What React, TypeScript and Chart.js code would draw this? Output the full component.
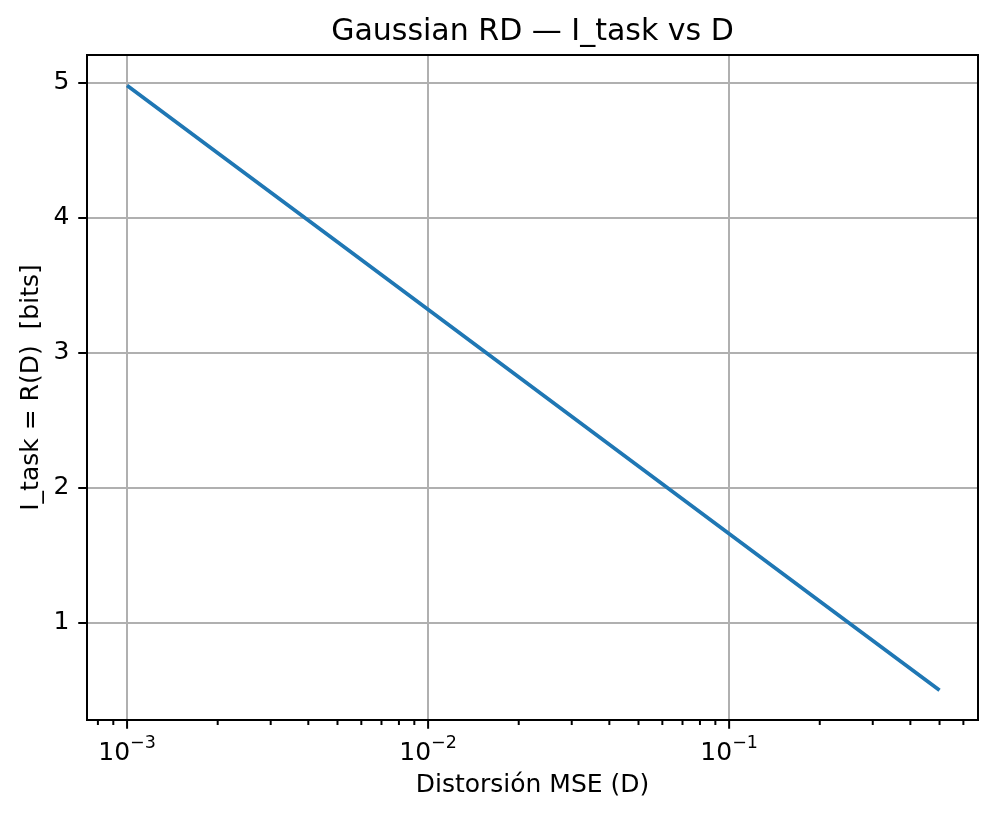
import { useEffect, useRef } from "react";
import { Chart, registerables } from "chart.js";

Chart.register(...registerables);

// distortion values (MSE) and the rate
const distortion = [0.001, 0.002, 0.005, 0.01, 0.02, 0.05, 0.1, 0.2, 0.5];
const rateBits = [4.98, 4.48, 3.82, 3.32, 2.82, 2.16, 1.66, 1.16, 0.5];
const yTicks = [1, 2, 3, 4, 5];

const FONT = "DejaVu Sans";
const GRID = "#b0b0b0";

const isDecade = (v: number) => Math.abs(Math.log10(v) - Math.round(Math.log10(v))) < 1e-9;

const SUP: Record<string, string> = { "-": "\u2212" };

const axesPlugin = {
    id: "mplAxes",
    afterDraw(chart: any) {
        const { ctx, chartArea } = chart;
        const x = chart.scales.x;
        ctx.save();
        // x tick marks + labels (10^n style)
        ctx.strokeStyle = "#000";
        ctx.lineWidth = 2;
        for (const t of x.ticks) {
            const px = x.getPixelForValue(t.value);
            if (px < chartArea.left - 0.5 || px > chartArea.right + 0.5) continue;
            const len = isDecade(t.value) ? 8.75 : 5;
            ctx.beginPath();
            ctx.moveTo(px, chartArea.bottom);
            ctx.lineTo(px, chartArea.bottom + len);
            ctx.stroke();
            if (isDecade(t.value)) {
                const exp = String(Math.round(Math.log10(t.value)))
                    .split("")
                    .map((c) => SUP[c] ?? c)
                    .join("");
                ctx.font = `25px ${FONT}`;
                const wBase = ctx.measureText("10").width;
                ctx.font = `17.5px ${FONT}`;
                const wExp = ctx.measureText(exp).width;
                const start = px - (wBase + wExp) / 2;
                ctx.fillStyle = "#000";
                ctx.textBaseline = "alphabetic";
                ctx.textAlign = "left";
                ctx.font = `25px ${FONT}`;
                ctx.fillText("10", start, chartArea.bottom + 40);
                ctx.font = `17.5px ${FONT}`;
                ctx.fillText(exp, start + wBase, chartArea.bottom + 28);
            }
        }
        // spines
        ctx.lineWidth = 2;
        ctx.strokeRect(chartArea.left, chartArea.top, chartArea.right - chartArea.left, chartArea.bottom - chartArea.top);
        ctx.restore();
    },
};

export default function App() {
    const canvasRef = useRef<HTMLCanvasElement | null>(null);

    useEffect(() => {
        document.body.style.margin = "0";
        if (!canvasRef.current) {
            return;
        }

        const chart = new Chart(canvasRef.current, {
            type: "line",
            data: {
                datasets: [
                    {
                        label: "R(D)",
                        data: distortion.map((d, i) => ({ x: d, y: rateBits[i] })),
                        borderColor: "#1f77b4",
                        borderWidth: 3.75,
                        pointRadius: 0,
                        tension: 0,
                        fill: false,
                    },
                ],
            },
            options: {
                animation: false,
                responsive: false,
                devicePixelRatio: 1,
                layout: { padding: { left: 0, right: 19, top: 0, bottom: 0 } },
                plugins: {
                    legend: { display: false },
                    tooltip: { enabled: false },
                    title: {
                        display: true,
                        text: "Gaussian RD \u2014 I_task vs D",
                        color: "#000",
                        fullSize: false,
                        font: { family: FONT, size: 30, weight: "normal" },
                        padding: { top: 14, bottom: 5 },
                    },
                },
                scales: {
                    x: {
                        type: "logarithmic",
                        min: 0.000736,
                        max: 0.671,
                        afterBuildTicks: (scale: any) => {
                            const out: { value: number; major: boolean }[] = [];
                            for (let e = -4; e <= 0; e++) {
                                for (let m = 1; m <= 9; m++) {
                                    const v = m * Math.pow(10, e);
                                    if (v >= scale.min && v <= scale.max) out.push({ value: v, major: m === 1 });
                                }
                            }
                            scale.ticks = out;
                        },
                        afterFit: (scale: any) => {
                            scale.height = 97;
                        },
                        ticks: { display: false },
                        border: { display: false },
                        grid: {
                            drawTicks: false,
                            lineWidth: 2,
                            color: (c: any) => (c.tick && isDecade(c.tick.value) ? GRID : "rgba(0,0,0,0)"),
                        },
                        title: {
                            display: true,
                            text: "Distorsi\u00f3n MSE (D)",
                            color: "#000",
                            font: { family: FONT, size: 25 },
                            padding: { top: 0, bottom: 17 },
                        },
                    },
                    y: {
                        type: "linear",
                        min: 0.28,
                        max: 5.205,
                        afterBuildTicks: (scale: any) => {
                            scale.ticks = yTicks.map((v) => ({ value: v }));
                        },
                        afterFit: (scale: any) => {
                            scale.width = 87;
                        },
                        border: { display: false },
                        grid: {
                            color: GRID,
                            lineWidth: 2,
                            tickColor: "#000",
                            tickLength: 8.75,
                            tickWidth: 2,
                        },
                        ticks: {
                            color: "#000",
                            padding: 8.75,
                            font: { family: FONT, size: 25 },
                            callback: (v: any) => String(v),
                        },
                        title: {
                            display: true,
                            text: "I_task = R(D)  [bits]",
                            color: "#000",
                            font: { family: FONT, size: 25 },
                            padding: { top: 16, bottom: 0 },
                        },
                    },
                },
            },
            plugins: [axesPlugin],
        });

        return () => chart.destroy();
    }, []);

    return (
        <div style={{ width: 997, height: 817 }}>
            <canvas ref={canvasRef} width={997} height={817} />
        </div>
    );
}
